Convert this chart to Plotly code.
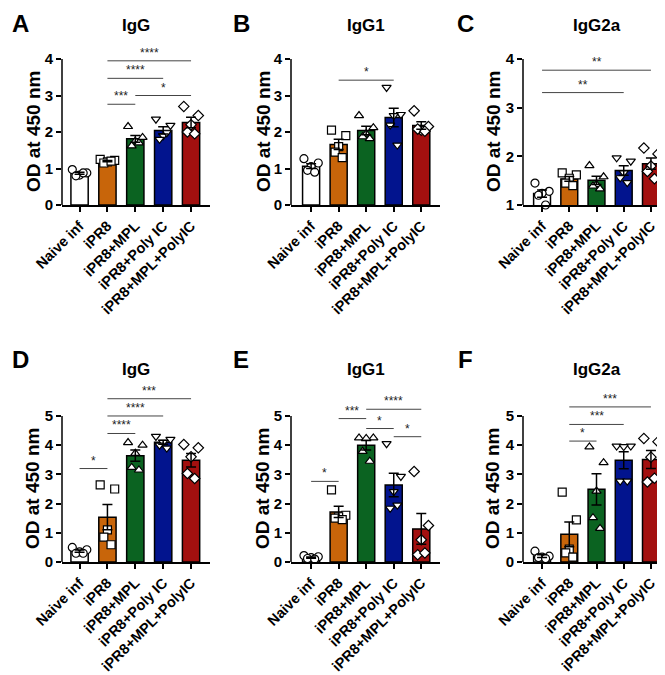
import numpy as np
import plotly.graph_objects as go

categories = ["Naive inf", "iPR8", "iPR8+MPL", "iPR8+Poly IC", "iPR8+MPL+PolyIC"]
bar_colors = ["#FFFFFF", "#C8650A", "#0B6321", "#02148E", "#A3100F"]
symbols = ["circle", "square", "triangle-up", "triangle-down", "diamond"]

# OD at 450 nm, five mice per group (rows follow categories)
a_igg = [[0.97, 0.88, 0.82, 0.80, 0.88], [1.25, 1.22, 1.18, 1.15, 1.20],
         [2.15, 1.85, 1.75, 1.62, 1.70], [2.35, 2.18, 1.90, 1.80, 1.98],
         [2.70, 2.45, 2.20, 2.00, 1.95]]
b_igg1 = [[1.27, 1.15, 1.05, 0.95, 0.90], [2.05, 1.90, 1.60, 1.45, 1.30],
          [2.45, 2.12, 1.95, 1.87, 1.82], [3.22, 2.48, 2.45, 2.19, 1.64],
          [2.58, 2.15, 2.05, 2.08, 2.02]]
c_igg2a = [[1.45, 1.28, 1.24, 1.20, 1.00], [1.66, 1.62, 1.55, 1.45, 1.40],
           [1.81, 1.58, 1.42, 1.39, 1.33], [1.97, 1.90, 1.66, 1.56, 1.46],
           [2.17, 2.05, 1.80, 1.69, 1.54]]
d_igg = [[0.50, 0.42, 0.35, 0.30, 0.30], [2.64, 2.50, 1.10, 0.85, 0.59],
         [4.09, 4.00, 3.72, 3.24, 3.15], [4.30, 4.20, 4.10, 4.00, 3.90],
         [4.02, 3.91, 3.60, 3.03, 2.86]]
e_igg1 = [[0.22, 0.18, 0.15, 0.12, 0.10], [2.47, 1.60, 1.55, 1.50, 1.45],
          [4.25, 4.25, 4.23, 3.79, 3.45], [4.05, 2.93, 2.41, 1.84, 1.95],
          [3.10, 1.25, 0.76, 0.25, 0.31]]
f_igg2a = [[0.37, 0.20, 0.17, 0.15, 0.12], [2.39, 1.44, 0.44, 0.31, 0.17],
           [3.94, 3.40, 2.43, 1.52, 1.15], [3.97, 3.97, 3.95, 2.77, 2.77],
           [4.23, 4.12, 3.59, 2.74, 2.87]]

# significance brackets: (group i, group j, height, label)
sig_a = [(1, 4, 3.95, "****"), (1, 3, 3.47, "****"), (1, 2, 2.76, "***"), (2, 4, 3.00, "*")]
sig_b = [(1, 3, 3.42, "*")]
sig_c = [(0, 3, 3.31, "**"), (0, 4, 3.77, "**")]
sig_d = [(0, 1, 3.20, "*"), (1, 2, 4.40, "****"), (1, 3, 5.00, "****"), (1, 4, 5.59, "***")]
sig_e = [(0, 1, 2.76, "*"), (1, 2, 4.91, "***"), (2, 4, 5.23, "****"), (2, 3, 4.57, "*"), (3, 4, 4.29, "*")]
sig_f = [(1, 2, 4.14, "*"), (1, 3, 4.71, "***"), (1, 4, 5.31, "***")]

y_ticks_top = [0, 1, 2, 3, 4]
y_ticks_c = [1, 2, 3, 4]
y_ticks_bottom = [0, 1, 2, 3, 4, 5]

panels = [
    dict(letter="A", title="IgG", values=a_igg, sig=sig_a, ticks=y_ticks_top, row=0, col=0, top=4.4),
    dict(letter="B", title="IgG1", values=b_igg1, sig=sig_b, ticks=y_ticks_top, row=0, col=1, top=4.4),
    dict(letter="C", title="IgG2a", values=c_igg2a, sig=sig_c, ticks=y_ticks_c, row=0, col=2, top=4.3),
    dict(letter="D", title="IgG", values=d_igg, sig=sig_d, ticks=y_ticks_bottom, row=1, col=0, top=5.8),
    dict(letter="E", title="IgG1", values=e_igg1, sig=sig_e, ticks=y_ticks_bottom, row=1, col=1, top=5.8),
    dict(letter="F", title="IgG2a", values=f_igg2a, sig=sig_f, ticks=y_ticks_bottom, row=1, col=2, top=5.8),
]

W, H = 665, 675


def px(x):
    return x / W


def py(y):
    return 1 - y / H


# layout geometry in pixels
col_geo = [(54, 202, -0.63, 4.68), (283, 432, -0.73, 4.68), (515, 662, -0.70, 4.70)]
row_geo = [(197, 36.4), (554, 384.6)]
letter_x = [12, 233, 457]
letter_y = [15, 352]
title_y = [18, 361]
ytitle_x = [25, 255, 485]

FONT = "Liberation Sans, Arial, sans-serif"
offsets = [-0.26, 0.26, 0.0, -0.13, 0.13]

fig = go.Figure()
shapes = []
annotations = []

for k, p in enumerate(panels):
    xa = "x" if k == 0 else f"x{k+1}"
    ya = "y" if k == 0 else f"y{k+1}"
    xl = "xaxis" if k == 0 else f"xaxis{k+1}"
    yl = "yaxis" if k == 0 else f"yaxis{k+1}"
    x0p, x1p, xr0, xr1 = col_geo[p["col"]]
    yb, yt = row_geo[p["row"]]
    ymin = p["ticks"][0]
    ymax = p["ticks"][-1]

    vals = [np.array(v) for v in p["values"]]
    means = [v.mean() for v in vals]
    sems = [v.std(ddof=1) / np.sqrt(len(v)) for v in vals]
    xs = list(range(len(categories)))

    fig.add_trace(go.Bar(x=xs, y=means, width=0.62, xaxis=xa, yaxis=ya,
                         marker=dict(color=bar_colors, line=dict(color="black", width=1.5)),
                         showlegend=False, hoverinfo="skip"))
    for i, v in enumerate(vals):
        fig.add_trace(go.Scatter(x=[i + o for o in offsets[:len(v)]], y=v, mode="markers",
                                 xaxis=xa, yaxis=ya, cliponaxis=False, showlegend=False,
                                 hoverinfo="skip",
                                 marker=dict(symbol=symbols[i], size=8, color="white",
                                             line=dict(color="black", width=1.2))))
    fig.add_trace(go.Scatter(x=xs, y=means, mode="markers", xaxis=xa, yaxis=ya,
                             showlegend=False, hoverinfo="skip",
                             marker=dict(size=1, color="rgba(0,0,0,0)"),
                             error_y=dict(type="data", array=sems, color="black",
                                          thickness=1.5, width=5)))
    for (i, j, h, lab) in p["sig"]:
        fig.add_trace(go.Scatter(x=[i, j], y=[h, h], mode="lines", xaxis=xa, yaxis=ya,
                                 line=dict(color="#444444", width=1), showlegend=False,
                                 hoverinfo="skip"))
        annotations.append(dict(x=(i + j) / 2, y=h, xref=xa, yref=ya, text=lab,
                                showarrow=False, yanchor="bottom", yshift=-1,
                                font=dict(family=FONT, size=12, color="#222")))

    fig.layout[xl] = dict(domain=[px(x0p), px(x1p)], range=[xr0, xr1], anchor=ya,
                          tickvals=xs, ticktext=categories, tickangle=-45,
                          ticks="outside", ticklen=5, tickwidth=1.5, tickcolor="black",
                          showline=True, linecolor="black", linewidth=1.5,
                          showgrid=False, zeroline=False, fixedrange=True, automargin=False,
                          tickfont=dict(family=FONT, size=14.5, color="black", weight="bold"))
    fig.layout[yl] = dict(domain=[py(yb), py(yt)], range=[ymin, p["top"]], anchor=xa,
                          tickvals=p["ticks"], ticks="outside", ticklen=5, tickwidth=1.5,
                          tickcolor="black", showline=False, showgrid=False, zeroline=False,
                          fixedrange=True, automargin=False,
                          tickfont=dict(family=FONT, size=15, color="black", weight="bold"))
    shapes.append(dict(type="line", xref=f"{xa} domain", x0=0, x1=0, yref=ya,
                       y0=ymin, y1=ymax, line=dict(color="black", width=1.5)))

    # panel letter, title, y title
    annotations.append(dict(x=px(letter_x[p["col"]]), y=py(letter_y[p["row"]]),
                            xref="paper", yref="paper", text=p["letter"], showarrow=False,
                            xanchor="center", yanchor="middle",
                            font=dict(family=FONT, size=24, color="black", weight="bold")))
    annotations.append(dict(x=px((x0p + x1p) / 2), y=py(title_y[p["row"]]),
                            xref="paper", yref="paper", text=p["title"], showarrow=False,
                            xanchor="center", yanchor="middle",
                            font=dict(family=FONT, size=17, color="black", weight="bold")))
    annotations.append(dict(x=px(ytitle_x[p["col"]]), y=(ymin + ymax) / 2, xref="paper", yref=ya,
                            text="OD at 450 nm", showarrow=False, textangle=-90,
                            xanchor="center", yanchor="middle",
                            font=dict(family=FONT, size=19, color="black", weight="bold")))

fig.update_layout(width=W, height=H, autosize=False,
                  margin=dict(l=0, r=0, t=0, b=0, pad=0, autoexpand=False),
                  paper_bgcolor="white", plot_bgcolor="white",
                  shapes=shapes, annotations=annotations, showlegend=False,
                  hovermode=False)

fig.write_html("out.html", config={"displayModeBar": False})
